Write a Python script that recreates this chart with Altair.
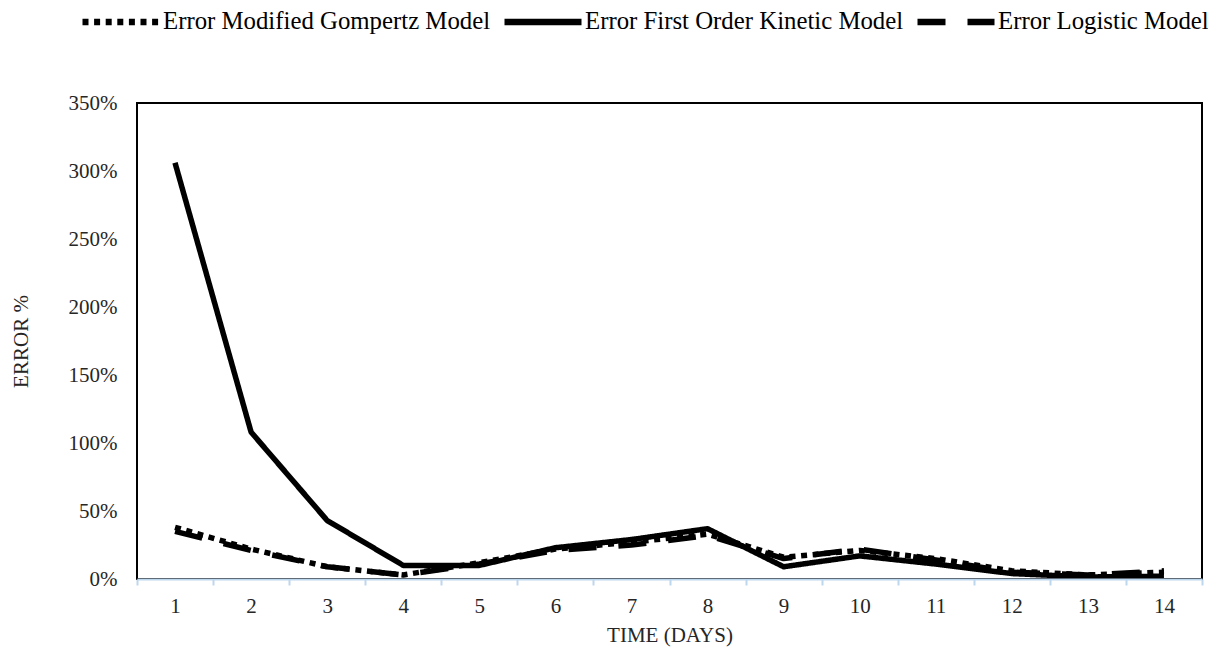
import altair as alt
import pandas as pd

days = list(range(1, 15))
series_names = ["Error Modified Gompertz Model", "Error First Order Kinetic Model", "Error Logistic Model"]
gompertz = [38, 22, 9, 3, 12, 22, 27, 33, 16, 21, 15, 6, 3, 5]
first_order = [306, 108, 43, 10, 10, 23, 29, 37, 9, 17, 11, 4, 1.5, 2]
logistic = [35, 21, 9, 3, 11, 21, 25, 32, 15, 22, 14, 5, 3, 6]
y_ticks = [0, 0.5, 1.0, 1.5, 2.0, 2.5, 3.0, 3.5]

rows = []
for name, vals in zip(series_names, [gompertz, first_order, logistic]):
    for d, v in zip(days, vals):
        rows.append({"day": d, "error": v / 100.0, "series": name})
df = pd.DataFrame(rows)

FONT = "Liberation Serif"

chart = alt.Chart(df).mark_line(strokeWidth=5.5, strokeCap="butt", strokeJoin="round", color="black").encode(
    x=alt.X("day:O", bandPosition=0.5,
            scale=alt.Scale(type="band", paddingInner=0, paddingOuter=0),
            axis=alt.Axis(title="TIME (DAYS)", labelAngle=0, tickBand="extent",
                          domainColor="#bdd7ee", domainWidth=2, tickColor="#bdd7ee", tickWidth=2,
                          tickSize=6, labelPadding=10, titlePadding=8, zindex=1,
                          labelFont=FONT, labelFontSize=21, labelColor="#262626",
                          titleFont=FONT, titleFontSize=21, titleFontWeight="normal", titleColor="#262626")),
    y=alt.Y("error:Q", scale=alt.Scale(domain=[0, 3.5], nice=False),
            axis=alt.Axis(title="ERROR %", format=".0%", values=y_ticks, grid=False,
                          domain=False, ticks=False, labelPadding=20, titlePadding=37,
                          labelFont=FONT, labelFontSize=21, labelColor="#262626",
                          titleFont=FONT, titleFontSize=21, titleFontWeight="normal", titleColor="#262626")),
    strokeDash=alt.StrokeDash("series:N",
                              scale=alt.Scale(domain=series_names, range=[[6, 5.6], [1, 0], [28, 22]]),
                              legend=alt.Legend(title=None, orient="none", legendX=-58, legendY=-123,
                                                direction="horizontal", symbolType="stroke", symbolSize=5929,
                                                symbolStrokeWidth=6.5, symbolStrokeColor="black",
                                                labelFont=FONT, labelFontSize=24.8, labelColor="black",
                                                labelLimit=0, labelOffset=0, columnPadding=0, padding=0)),
    order=alt.Order("day:Q"),
).properties(
    width=1065, height=476,
    autosize=alt.AutoSizeParams(type="none"),
    padding={"left": 129, "top": 95, "right": 6, "bottom": 70},
).configure_view(stroke="black", strokeWidth=2)

chart.save("out.html", embed_options={"renderer": "svg", "actions": False})
